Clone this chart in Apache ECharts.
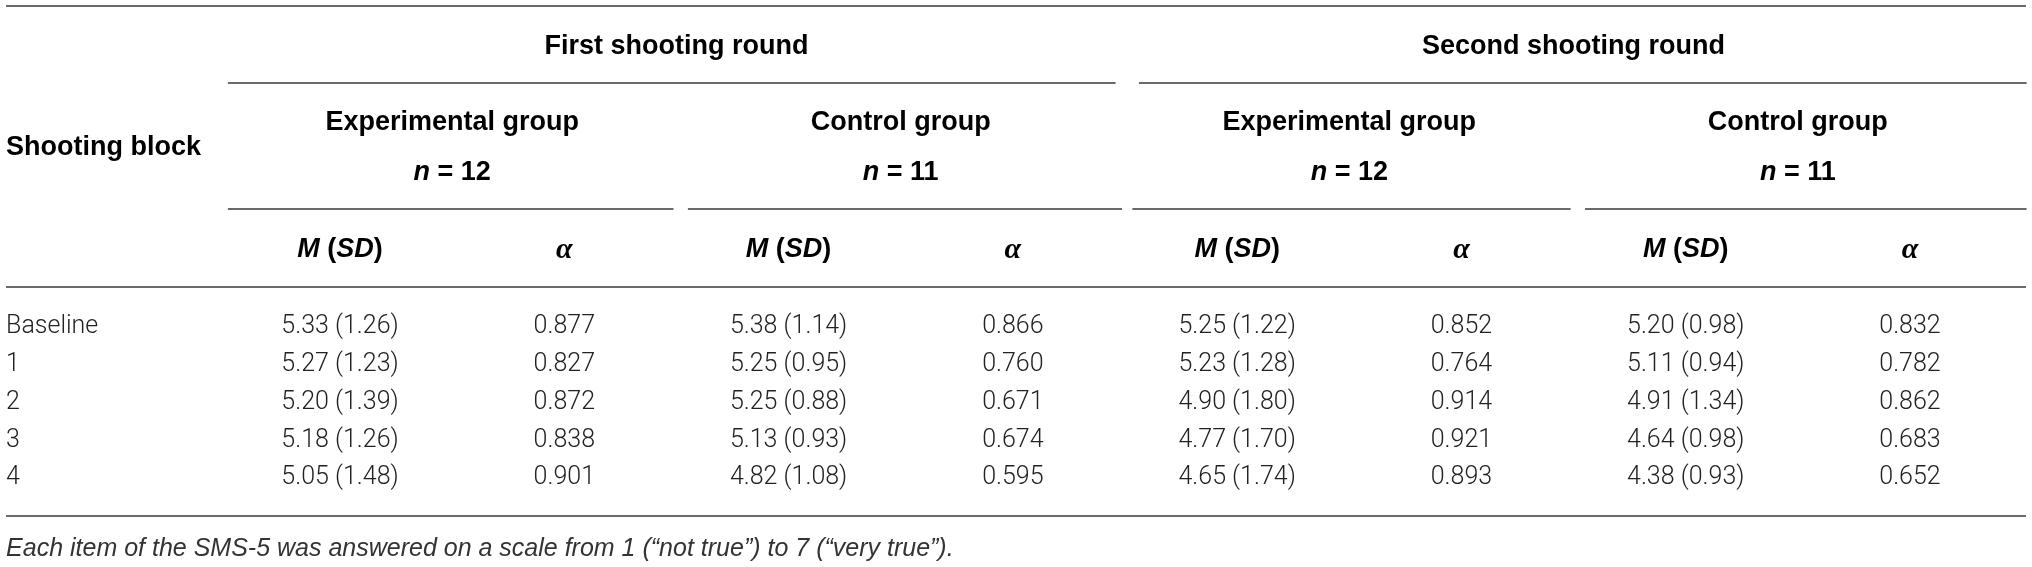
<!DOCTYPE html>
<html>
<head>
<meta charset="utf-8">
<title>SMS-5 shooting blocks</title>
<script src="https://cdn.jsdelivr.net/npm/echarts@6.0.0/dist/echarts.min.js"></script>
<style>
  html, body { margin: 0; padding: 0; background: #fff; }
  #table { width: 2032px; height: 567px; }
</style>
</head>
<body>
<div id="table"></div>
<script>
// table values
var blocks = ['Baseline', '1', '2', '3', '4'];
var rounds = ['First shooting round', 'Second shooting round'];
var groups = ['Experimental group', 'Control group'];
var groupN = [12, 11];

var round1ExpM = [5.33, 5.27, 5.20, 5.18, 5.05];
var round1ExpSD = [1.26, 1.23, 1.39, 1.26, 1.48];
var round1ExpAlpha = [0.877, 0.827, 0.872, 0.838, 0.901];
var round1CtrlM = [5.38, 5.25, 5.25, 5.13, 4.82];
var round1CtrlSD = [1.14, 0.95, 0.88, 0.93, 1.08];
var round1CtrlAlpha = [0.866, 0.760, 0.671, 0.674, 0.595];
var round2ExpM = [5.25, 5.23, 4.90, 4.77, 4.65];
var round2ExpSD = [1.22, 1.28, 1.80, 1.70, 1.74];
var round2ExpAlpha = [0.852, 0.764, 0.914, 0.921, 0.893];
var round2CtrlM = [5.20, 5.11, 4.91, 4.64, 4.38];
var round2CtrlSD = [0.98, 0.94, 1.34, 0.98, 0.93];
var round2CtrlAlpha = [0.832, 0.782, 0.862, 0.683, 0.652];

var footnote = 'Each item of the SMS-5 was answered on a scale from 1 (\u201cnot true\u201d) to 7 (\u201cvery true\u201d).';

// layout (x in column units, y in pixels from the top)
var layout = {
  left: -0.489, right: 8.517,
  yTop: 6, yRound: 47, yRoundRule: 83, yGroup: 123, yBlock: 148, yN: 173,
  yGroupRule: 209, yColHead: 250, yHeadRule: 287, yRow0: 327, rowStep: 37.8,
  yBottomRule: 516, yNote: 549,
  roundGap: 0.062, groupGap: 0.033
};

var BOLD = '"Liberation Sans", Arial, sans-serif';
var LIGHT = 'Roboto, "Liberation Sans", sans-serif';

var cells = [];
var rules = [];

function cell(x, y, text, kind, align) {
  cells.push({ x: x, y: y, text: text, kind: kind, align: align || 'center' });
}

// header
cell(layout.left, layout.yBlock, 'Shooting block', 'head', 'left');
var columns = [
  [round1ExpM, round1ExpSD, round1ExpAlpha],
  [round1CtrlM, round1CtrlSD, round1CtrlAlpha],
  [round2ExpM, round2ExpSD, round2ExpAlpha],
  [round2CtrlM, round2CtrlSD, round2CtrlAlpha]
];
rounds.forEach(function (r, ri) {
  var c = 2.5 + ri * 4;
  cell(c, layout.yRound, r, 'head');
  var b0 = 0.5 + ri * 4, b1 = 4.52 + ri * 4;
  rules.push([b0 + (ri ? layout.roundGap : 0), b1 - (ri ? 0 : layout.roundGap), layout.yRoundRule]);
});
columns.forEach(function (col, gi) {
  var mCol = 1 + gi * 2, aCol = 2 + gi * 2;
  var g = gi % 2;
  cell(mCol + 0.5, layout.yGroup, groups[g], 'head');
  cell(mCol + 0.5, layout.yN, '{bi|n}{b| = ' + groupN[g] + '}', 'rich');
  var b0 = mCol - 0.5 + (gi % 2 ? 0.018 : 0), b1 = aCol + 0.52;
  rules.push([b0 + (gi === 0 ? 0 : layout.groupGap), b1 - (gi === 3 ? 0 : layout.groupGap), layout.yGroupRule]);
  cell(mCol, layout.yColHead, '{bi|M}{b| (}{bi|SD}{b|)}', 'rich');
  cell(aCol, layout.yColHead, '{a|\u03b1}', 'rich');
  blocks.forEach(function (b, i) {
    var y = layout.yRow0 + i * layout.rowStep;
    cell(mCol, y, col[0][i].toFixed(2) + ' (' + col[1][i].toFixed(2) + ')', 'body');
    cell(aCol, y, col[2][i].toFixed(3), 'body');
  });
});
blocks.forEach(function (b, i) {
  cell(layout.left, layout.yRow0 + i * layout.rowStep, b, 'body', 'left');
});
cell(layout.left, layout.yNote, footnote, 'note', 'left');

rules.push([layout.left, layout.right, layout.yTop]);
rules.push([layout.left, layout.right, layout.yHeadRule]);
rules.push([layout.left, layout.right, layout.yBottomRule]);

var fonts = {
  head: { fontFamily: BOLD, fontWeight: 'bold', fontSize: 27 },
  rich: { fontFamily: BOLD, fontWeight: 'bold', fontSize: 27 },
  body: { fontFamily: LIGHT, fontWeight: 300, fontSize: 25 },
  note: { fontFamily: '"Liberation Sans", Arial, sans-serif', fontWeight: 'normal', fontStyle: 'italic', fontSize: 25 }
};
var richStyles = {
  b: { fontFamily: BOLD, fontWeight: 'bold', fontSize: 27, fill: '#000' },
  bi: { fontFamily: BOLD, fontWeight: 'bold', fontStyle: 'italic', fontSize: 27, fill: '#000' },
  a: { fontFamily: '"Liberation Serif", "DejaVu Serif", serif', fontWeight: 'bold', fontStyle: 'italic', fontSize: 30, fill: '#000' }
};

var chart = echarts.init(document.getElementById('table'));

var option = {
  animation: false,
  grid: { left: 0, right: 0, top: 0, bottom: 0 },
  xAxis: { type: 'value', min: -0.516, max: 8.544, show: false },
  yAxis: { type: 'value', min: 0, max: 567, inverse: true, show: false },
  series: [
    {
      type: 'custom',
      name: 'rules',
      data: rules,
      renderItem: function (params, api) {
        var p0 = api.coord([api.value(0), api.value(2)]);
        var p1 = api.coord([api.value(1), api.value(2)]);
        return {
          type: 'line',
          shape: { x1: p0[0], y1: p0[1], x2: p1[0], y2: p1[1] },
          style: { stroke: '#6a6a6a', lineWidth: 2 }
        };
      }
    },
    {
      type: 'custom',
      name: 'cells',
      data: cells.map(function (c, i) { return [c.x, c.y, i]; }),
      renderItem: function (params, api) {
        var c = cells[api.value(2)];
        var p = api.coord([api.value(0), api.value(1)]);
        var f = fonts[c.kind];
        var style = {
          text: c.text,
          fill: c.kind === 'body' ? '#222' : (c.kind === 'note' ? '#333' : '#000'),
          align: c.align,
          verticalAlign: 'middle',
          fontFamily: f.fontFamily,
          fontWeight: f.fontWeight,
          fontSize: f.fontSize,
          fontStyle: f.fontStyle || 'normal'
        };
        if (c.kind === 'rich') style.rich = richStyles;
        return { type: 'text', x: p[0], y: p[1], style: style };
      }
    }
  ]
};

chart.setOption(option);

window.addEventListener('resize', function () {
  chart.resize();
});
</script>
</body>
</html>
